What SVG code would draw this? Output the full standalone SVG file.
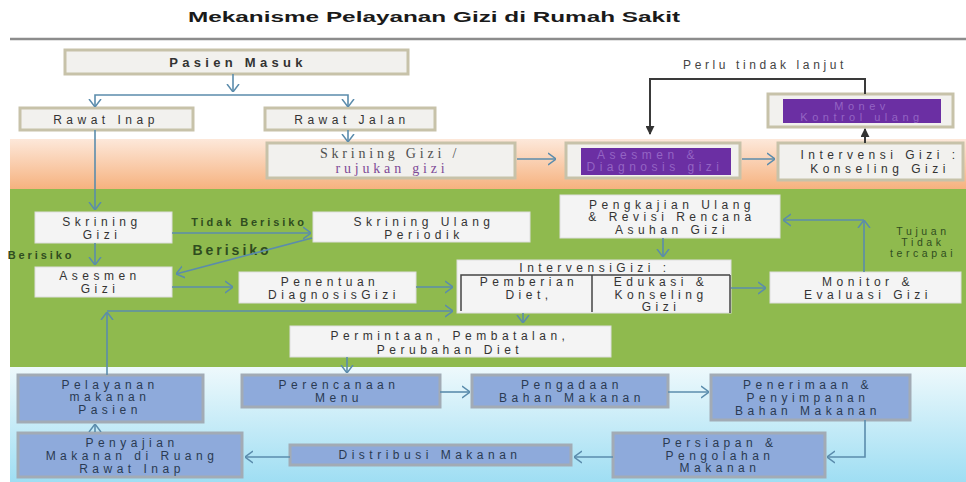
<svg xmlns="http://www.w3.org/2000/svg" width="966" height="482" viewBox="0 0 966 482">
<defs>
<linearGradient id="gOr" x1="0" y1="0" x2="0" y2="1">
<stop offset="0" stop-color="#fde8da"/>
<stop offset="1" stop-color="#f6b27f"/>
</linearGradient>
<linearGradient id="gBl" x1="0" y1="0" x2="0" y2="1">
<stop offset="0" stop-color="#eef9fc"/>
<stop offset="1" stop-color="#9fdef3"/>
</linearGradient>
<marker id="a" viewBox="0 0 8 14" refX="8" refY="7" markerWidth="8" markerHeight="14" orient="auto" markerUnits="userSpaceOnUse">
<path d="M0,1 L8,7 L0,13" fill="none" stroke="#5b8cac" stroke-width="1.5"/>
</marker>
<marker id="b" viewBox="0 0 10 10" refX="9" refY="5" markerWidth="9" markerHeight="9" orient="auto" markerUnits="userSpaceOnUse">
<path d="M0,0 L10,5 L0,10 Z" fill="#333"/>
</marker>
<style>
.c{fill:none;stroke:#5b8cac;stroke-width:1.6;marker-end:url(#a)}
.k{fill:none;stroke:#3a3a3a;stroke-width:2;marker-end:url(#b)}
.tb{fill:#f2f1ee;stroke:#c7c2a9;stroke-width:3}
.wb{fill:#f4f4f4;stroke:#dedede;stroke-width:1}
.bb{fill:#8eaadb;stroke:#a2abb5;stroke-width:3}
.pu{fill:#6b2fa3}
text{font-family:"Liberation Sans",Arial,sans-serif;font-size:12px;letter-spacing:4.5px;text-anchor:middle;fill:#333333}
.bt{fill:#2a3a52}
.pt{fill:#9464c4}
.sf{font-family:"Liberation Serif","Times New Roman",serif;font-size:14px;letter-spacing:3.8px}
.lb{font-weight:bold;fill:#2f4d1f;font-size:11px;letter-spacing:2.9px}
.lt{fill:#2f4d1f;font-size:10.5px;letter-spacing:3.6px}
</style>
</defs>
<rect width="966" height="482" fill="#ffffff"/>
<rect x="10" y="139" width="956" height="50" fill="url(#gOr)"/>
<rect x="10" y="189" width="956" height="178" fill="#8fba4e"/>
<rect x="10" y="367" width="956" height="115" fill="url(#gBl)"/>
<text x="434" y="22" textLength="492" lengthAdjust="spacingAndGlyphs" style="font-weight:bold;font-size:14px;letter-spacing:0;fill:#1a1a1a">Mekanisme Pelayanan Gizi di Rumah Sakit</text>
<line x1="10" y1="39" x2="966" y2="39" stroke="#8c8c8c" stroke-width="2.5"/>

<g id="pasien-masuk"><rect class="tb" x="65" y="50" width="343" height="24"/><text x="238" y="66.5" style="font-weight:bold;font-size:13px;letter-spacing:4.3px">Pasien Masuk</text></g>
<g id="rawat-inap"><rect class="tb" x="20" y="108" width="173" height="22"/><text x="106" y="123.5">Rawat Inap</text></g>
<g id="rawat-jalan"><rect class="tb" x="265" y="108" width="170" height="22"/><text x="352" y="123.5">Rawat Jalan</text></g>

<g id="skrining-rujukan"><rect class="tb" x="267" y="143" width="248" height="35"/><text class="sf" x="390" y="158" style="fill:#505050">Skrining Gizi /</text><text class="sf" x="392" y="173" style="fill:#7e4a96">rujukan gizi</text></g>
<g id="asesmen-diagnosis"><rect class="tb" x="566" y="143" width="174" height="35"/><rect class="pu" x="581" y="148" width="150" height="27"/><text class="pt" x="648" y="158.5">Asesmen &amp;</text><text class="pt" x="655" y="171">Diagnosis gizi</text></g>
<g id="intervensi-konseling"><rect class="tb" x="778" y="143" width="185" height="37"/><text x="880" y="159">Intervensi Gizi :</text><text x="880" y="172.5">Konseling Gizi</text></g>
<g id="monev"><rect class="tb" x="768" y="94" width="185" height="33"/><rect class="pu" x="783" y="99" width="158" height="24"/><text class="pt" x="862" y="109.5" style="font-size:11px">Monev</text><text class="pt" x="862" y="121" style="font-size:11px">Kontrol ulang</text></g>
<text x="765" y="69" style="font-size:12px;letter-spacing:3.6px;fill:#444">Perlu tindak lanjut</text>

<g id="skrining-gizi"><rect class="wb" x="35" y="212" width="137" height="31"/><text x="102" y="226">Skrining</text><text x="102" y="238.5">Gizi</text></g>
<g id="skrining-ulang"><rect class="wb" x="313" y="212" width="217" height="30"/><text x="424" y="226">Skrining Ulang</text><text x="424" y="238.5">Periodik</text></g>
<g id="asesmen-gizi"><rect class="wb" x="35" y="267" width="137" height="30"/><text x="100" y="280">Asesmen</text><text x="100" y="292.5">Gizi</text></g>
<g id="penentuan"><rect class="wb" x="239" y="272" width="177" height="31"/><text x="330" y="286">Penentuan</text><text x="334" y="298.5">DiagnosisGizi</text></g>
<g id="intervensi-gizi"><rect class="wb" x="457" y="260" width="274" height="53"/>
<path d="M461,311 V275 H730 M592,275 V312 M730,275 V313" fill="none" stroke="#444" stroke-width="1.5"/>
<text x="595" y="272">IntervensiGizi :</text>
<text x="529" y="286">Pemberian</text><text x="529" y="298.5">Diet,</text>
<text x="661" y="286">Edukasi &amp;</text><text x="661" y="298.5">Konseling</text><text x="661" y="311">Gizi</text></g>
<g id="monitor"><rect class="wb" x="770" y="272" width="191" height="31"/><text x="868" y="286">Monitor &amp;</text><text x="868" y="298.5">Evaluasi Gizi</text></g>
<g id="pengkajian"><rect class="wb" x="560" y="195" width="220" height="43"/><text x="672" y="208.5">Pengkajian Ulang</text><text x="672" y="221">&amp; Revisi Rencana</text><text x="672" y="233.5">Asuhan Gizi</text></g>
<g id="permintaan"><rect class="wb" x="290" y="326" width="321" height="31"/><text x="450" y="339.5">Permintaan, Pembatalan,</text><text x="450" y="353.5">Perubahan Diet</text></g>

<text class="lb" x="249" y="226">Tidak Berisiko</text>
<text class="lb" x="232" y="255" style="font-size:14px;letter-spacing:3px">Berisiko</text>
<text class="lb" x="41" y="259">Berisiko</text>
<text class="lt" x="923" y="234.5">Tujuan</text>
<text class="lt" x="923" y="245.5">Tidak</text>
<text class="lt" x="923" y="256.5">tercapai</text>

<g id="pelayanan-makanan"><rect class="bb" x="18" y="375" width="185" height="47"/><text class="bt" x="110" y="388.5">Pelayanan</text><text class="bt" x="110" y="401">makanan</text><text class="bt" x="110" y="413.5">Pasien</text></g>
<g id="penyajian"><rect class="bb" x="18" y="433" width="224" height="44"/><text class="bt" x="132" y="446.5">Penyajian</text><text class="bt" x="132" y="459.5">Makanan di Ruang</text><text class="bt" x="132" y="472.5">Rawat Inap</text></g>
<g id="perencanaan"><rect class="bb" x="242" y="375" width="198" height="32"/><text class="bt" x="339" y="389">Perencanaan</text><text class="bt" x="339" y="401.5">Menu</text></g>
<g id="pengadaan"><rect class="bb" x="472" y="375" width="196" height="32"/><text class="bt" x="572" y="389">Pengadaan</text><text class="bt" x="572" y="401.5">Bahan Makanan</text></g>
<g id="penerimaan"><rect class="bb" x="711" y="375" width="199" height="45"/><text class="bt" x="808" y="388.5">Penerimaan &amp;</text><text class="bt" x="808" y="401.5">Penyimpanan</text><text class="bt" x="808" y="414.5">Bahan Makanan</text></g>
<g id="persiapan"><rect class="bb" x="613" y="433" width="212" height="44"/><text class="bt" x="720" y="446.5">Persiapan &amp;</text><text class="bt" x="720" y="459.5">Pengolahan</text><text class="bt" x="720" y="472">Makanan</text></g>
<g id="distribusi"><rect class="bb" x="290" y="445" width="281" height="20"/><text class="bt" x="430" y="459">Distribusi Makanan</text></g>

<g id="connectors">
<path class="c" d="M233,74 V92"/>
<path class="c" d="M233,95 H95 V107"/>
<path class="c" d="M233,95 H348 V107"/>
<path class="c" d="M95,130 V210"/>
<path class="c" d="M348,130 V142"/>
<path class="c" d="M517,159 H556"/>
<path class="c" d="M742,159 H775"/>
<path class="k" d="M865,143 V129"/>
<path class="k" d="M865,94 V79 H650 V134"/>
<path class="c" d="M172,233 H311"/>
<path class="c" d="M312,238 L176,274"/>
<path class="c" d="M95,243 V265"/>
<path class="c" d="M172,287 H233"/>
<path class="c" d="M416,287 H453"/>
<path class="c" d="M731,288 H766"/>
<path class="c" d="M864,272 V220"/>
<path class="c" d="M864,220 H783"/>
<path class="c" d="M663,238 V257"/>
<path class="c" d="M523,313 V323"/>
<path class="c" d="M107,375 V312"/>
<path class="c" d="M107,311 H453"/>
<path class="c" d="M347,357 V373"/>
<path class="c" d="M440,392 H470"/>
<path class="c" d="M668,392 H709"/>
<path class="c" d="M865,420 V457 H827"/>
<path class="c" d="M613,457 H574"/>
<path class="c" d="M290,457 H245"/>
<path class="c" d="M95,432 V424"/>
</g>
</svg>
